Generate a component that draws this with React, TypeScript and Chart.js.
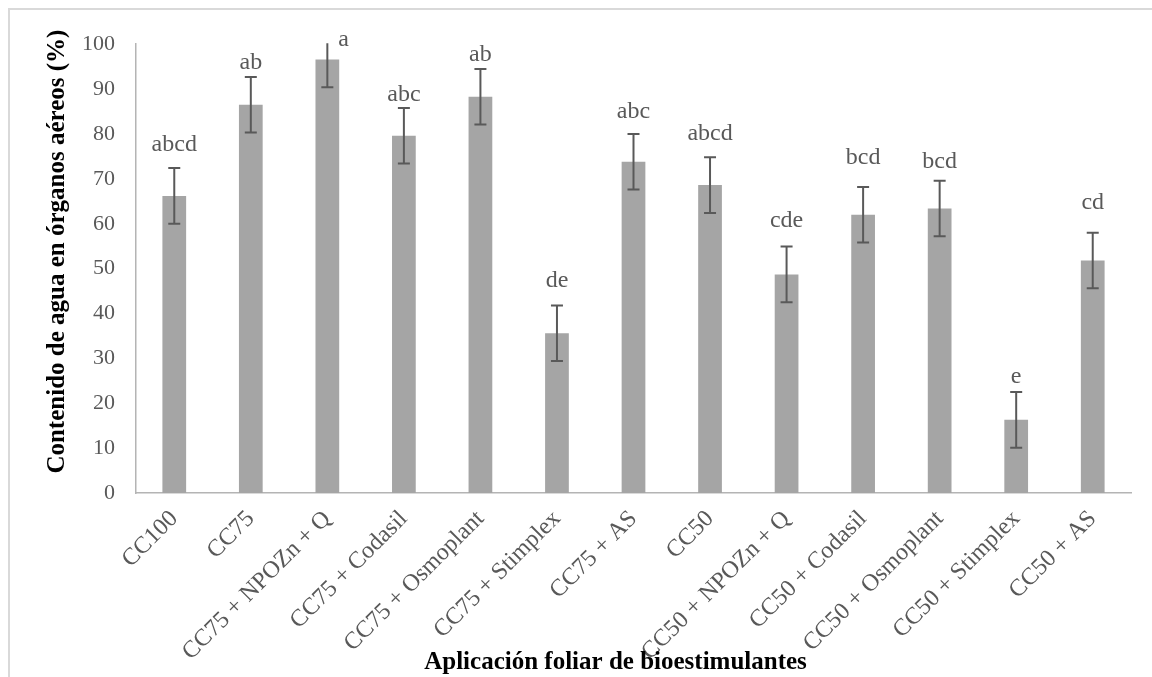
import { useEffect, useRef } from "react";
import { Chart, registerables } from "chart.js";

Chart.register(...registerables);

const categories = [
  "CC100",
  "CC75",
  "CC75 + NPOZn + Q",
  "CC75 + Codasil",
  "CC75 + Osmoplant",
  "CC75 + Stimplex",
  "CC75 + AS",
  "CC50",
  "CC50 + NPOZn + Q",
  "CC50 + Codasil",
  "CC50 + Osmoplant",
  "CC50 + Stimplex",
  "CC50 + AS",
];
const values = [66.2, 86.5, 96.6, 79.6, 88.3, 35.6, 73.8, 68.6, 48.7, 62.0, 63.4, 16.3, 51.8];
const errors = [6.2, 6.2, 6.2, 6.2, 6.2, 6.2, 6.2, 6.2, 6.2, 6.2, 6.2, 6.2, 6.2];
const letters = ["abcd", "ab", "a", "abc", "ab", "de", "abc", "abcd", "cde", "bcd", "bcd", "e", "cd"];
const letterAt = [76.3, 94.5, 99.6, 87.3, 96.3, 46.0, 83.5, 78.7, 59.3, 73.4, 72.5, 24.5, 63.3];
const yMin = 0;
const yMax = 100;
const yStep = 10;
const yTitle = "Contenido de agua en órganos aéreos (%)";
const xTitle = "Aplicación foliar de bioestimulantes";

const SERIF = "'Liberation Serif', 'Times New Roman', serif";
const TEXT_GRAY = "#595959";

const annotationsPlugin = {
  id: "annotations",
  afterDatasetsDraw(chart: any) {
    const ctx = chart.ctx as CanvasRenderingContext2D;
    const xs = chart.scales.x;
    const ys = chart.scales.y;
    const area = chart.chartArea;
    const meta = chart.getDatasetMeta(0);
    ctx.save();
    ctx.beginPath();
    ctx.rect(area.left, area.top - 1, area.right - area.left, area.bottom - area.top + 2);
    ctx.clip();
    ctx.strokeStyle = "#595959";
    ctx.lineWidth = 2;
    values.forEach((v, i) => {
      const x = xs.getPixelForValue(i);
      const yTop = ys.getPixelForValue(v + errors[i]);
      const yBot = ys.getPixelForValue(v - errors[i]);
      ctx.beginPath();
      ctx.moveTo(x, yTop);
      ctx.lineTo(x, yBot);
      ctx.moveTo(x - 6, yTop);
      ctx.lineTo(x + 6, yTop);
      ctx.moveTo(x - 6, yBot);
      ctx.lineTo(x + 6, yBot);
      ctx.stroke();
    });
    ctx.restore();
    ctx.save();
    ctx.fillStyle = TEXT_GRAY;
    ctx.font = `24px ${SERIF}`;
    ctx.textBaseline = "alphabetic";
    letters.forEach((t, i) => {
      const bar = meta.data[i];
      const y = ys.getPixelForValue(letterAt[i]);
      if (values[i] + errors[i] > yMax) {
        ctx.textAlign = "left";
        ctx.fillText(t, bar.x + bar.width / 2 - 1, y);
      } else {
        ctx.textAlign = "center";
        ctx.fillText(t, bar.x, y);
      }
    });
    ctx.restore();
  },
  afterDraw(chart: any) {
    const ctx = chart.ctx as CanvasRenderingContext2D;
    const area = chart.chartArea;
    ctx.save();
    ctx.fillStyle = "#000";
    ctx.font = `bold 25px ${SERIF}`;
    ctx.textAlign = "center";
    ctx.textBaseline = "middle";
    ctx.save();
    ctx.translate(48, (area.top + area.bottom) / 2 - 17);
    ctx.rotate(-Math.PI / 2);
    ctx.fillText(yTitle, 0, 0);
    ctx.restore();
    ctx.fillText(xTitle, (area.left + area.right) / 2 - 18, 653);
    ctx.restore();
  },
};

export default function App() {
  const ref = useRef<HTMLCanvasElement>(null);
  useEffect(() => {
    document.documentElement.style.overflow = "hidden";
    document.body.style.overflow = "hidden";
    const chart = new Chart(ref.current!, {
      type: "bar",
      data: {
        labels: categories,
        datasets: [
          {
            data: values,
            backgroundColor: "#a5a5a5",
            borderWidth: 0,
            categoryPercentage: 1,
            barPercentage: 0.31,
          },
        ],
      },
      options: {
        responsive: false,
        animation: false,
        devicePixelRatio: 1,
        layout: { padding: { left: 0, top: 28, right: 21, bottom: 0 } },
        plugins: {
          legend: { display: false },
          tooltip: { enabled: false },
        },
        scales: {
          x: {
            grid: { display: false, drawTicks: false },
            border: { display: true, color: "#b4b4b4", width: 1.5 },
            ticks: {
              autoSkip: false,
              maxRotation: 45,
              minRotation: 45,
              padding: 12,
              color: TEXT_GRAY,
              font: { family: SERIF, size: 24 },
            },
            afterFit(scale: any) {
              scale.height = 184;
            },
          },
          y: {
            min: yMin,
            max: yMax,
            grid: { display: false, drawTicks: false },
            border: { display: true, color: "#b4b4b4", width: 1.5 },
            ticks: {
              stepSize: yStep,
              padding: 21,
              color: TEXT_GRAY,
              font: { family: SERIF, size: 22 },
            },
            afterFit(scale: any) {
              scale.width = 126;
            },
          },
        },
      },
      plugins: [annotationsPlugin],
    });
    return () => chart.destroy();
  }, []);
  return (
    <div
      style={{
        position: "absolute",
        left: 8,
        top: 8,
        width: 1144,
        height: 669,
        borderLeft: "2px solid #d9d9d9",
        borderTop: "2px solid #d9d9d9",
        boxSizing: "border-box",
        background: "#fff",
      }}
    >
      <canvas ref={ref} width={1142} height={667} style={{ display: "block" }} />
    </div>
  );
}
